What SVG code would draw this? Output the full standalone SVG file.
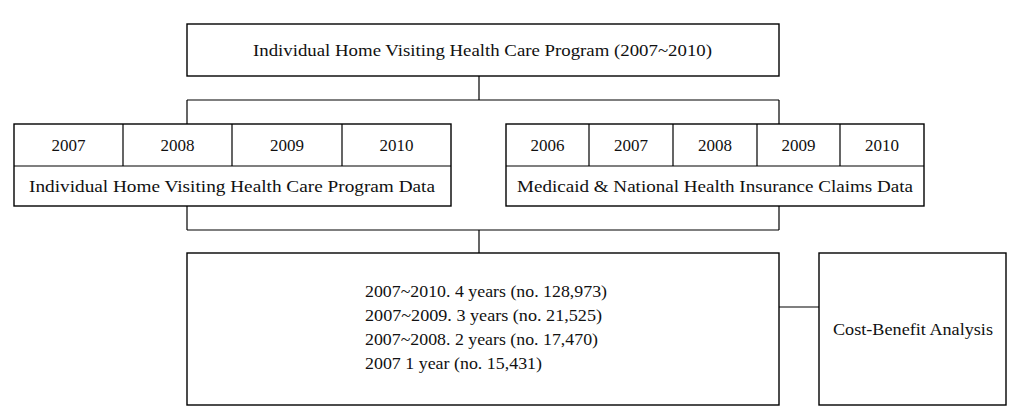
<svg xmlns="http://www.w3.org/2000/svg" width="1015" height="416" viewBox="0 0 1015 416">
<style>
.b{fill:#fff;stroke:#000;stroke-width:1.4}
.l{fill:none;stroke:#000;stroke-width:1.2}
text{font-family:"Liberation Serif","Times New Roman",serif;font-size:17px;fill:#111}
.c{text-anchor:middle}
</style>
<rect width="1015" height="416" fill="#fff"/>
<g id="connectors">
<path class="l" d="M479,76V100M187,100H779M187,100V124M779,100V124"/>
<path class="l" d="M187,206V230M779,206V230M187,230H779M479,230V253"/>
<path class="l" d="M779,307H819"/>
</g>
<g id="program">
<rect class="b" x="187" y="24" width="592" height="52"/>
<text x="482.5" y="56" class="c" textLength="459" lengthAdjust="spacingAndGlyphs">Individual Home Visiting Health Care Program (2007~2010)</text>
</g>
<g id="program-data">
<rect class="b" x="14" y="124" width="437" height="82"/>
<path class="l" d="M14,166H451M123,124V166M232,124V166M342,124V166"/>
<text x="68.5" y="151" class="c">2007</text>
<text x="177.5" y="151" class="c">2008</text>
<text x="287" y="151" class="c">2009</text>
<text x="396.5" y="151" class="c">2010</text>
<text x="232" y="192" class="c" textLength="406" lengthAdjust="spacingAndGlyphs">Individual Home Visiting Health Care Program Data</text>
</g>
<g id="claims-data">
<rect class="b" x="506" y="124" width="418" height="82"/>
<path class="l" d="M506,166H924M589,124V166M673,124V166M757,124V166M840,124V166"/>
<text x="547.5" y="151" class="c">2006</text>
<text x="631" y="151" class="c">2007</text>
<text x="715" y="151" class="c">2008</text>
<text x="798.5" y="151" class="c">2009</text>
<text x="882" y="151" class="c">2010</text>
<text x="715" y="192" class="c" textLength="396" lengthAdjust="spacingAndGlyphs">Medicaid &amp; National Health Insurance Claims Data</text>
</g>
<g id="cohorts">
<rect class="b" x="187" y="253" width="592" height="152"/>
<text x="365" y="297" textLength="242" lengthAdjust="spacingAndGlyphs">2007~2010. 4 years (no. 128,973)</text>
<text x="365" y="321" textLength="237" lengthAdjust="spacingAndGlyphs">2007~2009. 3 years (no. 21,525)</text>
<text x="365" y="345" textLength="233" lengthAdjust="spacingAndGlyphs">2007~2008. 2 years (no. 17,470)</text>
<text x="365" y="369" textLength="177" lengthAdjust="spacingAndGlyphs">2007 1 year (no. 15,431)</text>
</g>
<g id="cost-benefit">
<rect class="b" x="819" y="253" width="187" height="152"/>
<text x="913" y="335" class="c" textLength="160" lengthAdjust="spacingAndGlyphs">Cost-Benefit Analysis</text>
</g>
</svg>
